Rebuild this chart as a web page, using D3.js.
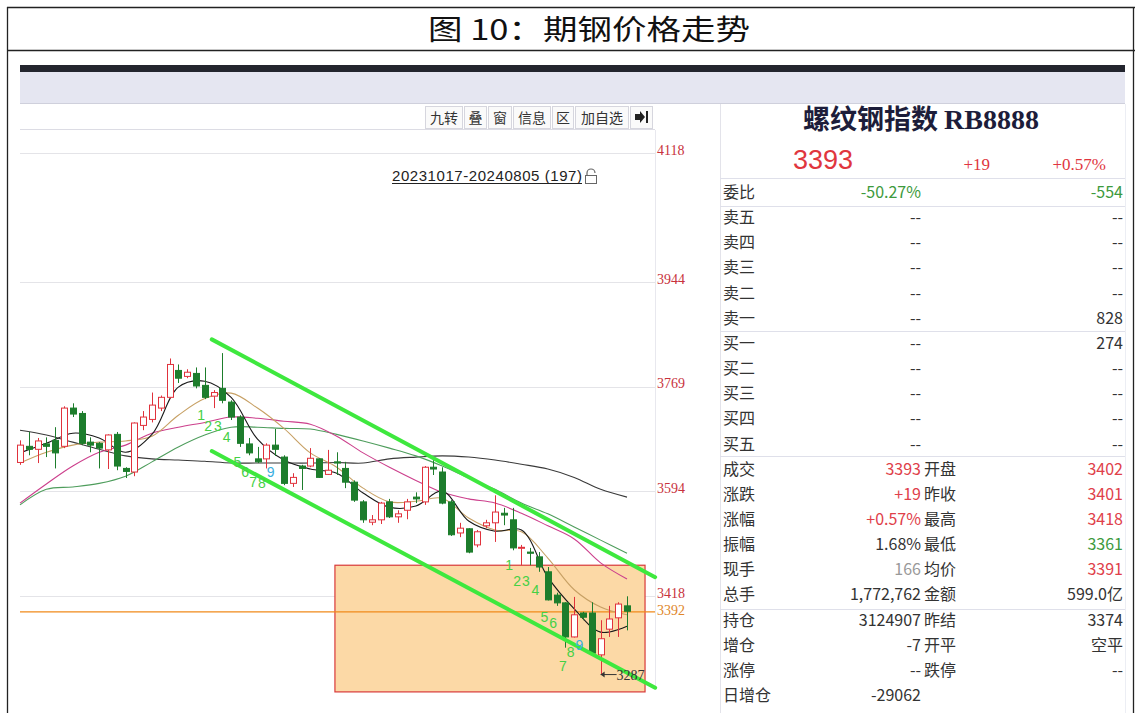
<!DOCTYPE html>
<html><head><meta charset="utf-8">
<script src="https://cdn.jsdelivr.net/npm/d3@7/dist/d3.min.js"></script>
<style>html,body{margin:0;padding:0;background:#fff}svg{display:block}</style>
</head><body><svg id="chart" width="1135" height="713"></svg>
<script>
// ---------------- data ----------------
const days = d3.range(1, 71);
const opens = [3642,3669,3664,3673,3679,3669,3733,3724,3676,3674, 3663,3689,3632,3626,3704,3714,3733,3751,3796,3786, 3791,3771,3753,3766,3743,3718,3673,3648,3648,3671, 3651,3607,3636,3636,3648,3622,3643,3632,3609,3576, 3542,3546,3576,3551,3562,3584,3576,3634,3626,3576, 3524,3531,3504,3536,3541,3557,3546,3499,3492,3484, 3459,3420,3407,3350,3390,3390,3320,3363,3382,3402];
const highs = [3679,3693,3683,3684,3701,3736,3741,3728,3684,3676, 3689,3693,3634,3709,3728,3759,3754,3816,3806,3798, 3801,3801,3763,3825,3746,3721,3683,3668,3674,3698, 3654,3624,3638,3666,3649,3663,3659,3643,3612,3579, 3554,3576,3581,3562,3581,3592,3636,3646,3634,3579, 3541,3532,3529,3546,3587,3566,3566,3504,3499,3492, 3467,3424,3408,3417,3392,3408,3378,3402,3408,3418];
const lows = [3638,3654,3641,3651,3632,3666,3718,3671,3659,3632, 3631,3629,3616,3619,3696,3709,3728,3749,3775,3783, 3766,3748,3733,3741,3713,3668,3654,3641,3632,3653, 3604,3601,3596,3634,3616,3621,3621,3599,3576,3541, 3537,3539,3549,3541,3547,3574,3571,3621,3572,3519, 3517,3490,3500,3532,3509,3537,3495,3470,3470,3459, 3411,3402,3332,3349,3378,3320,3287,3350,3350,3361];
const closes = [3671,3664,3678,3669,3658,3733,3723,3674,3671,3666, 3688,3636,3627,3708,3718,3738,3751,3806,3783,3793, 3770,3751,3759,3746,3718,3674,3658,3643,3671,3664, 3607,3617,3632,3649,3617,3629,3641,3609,3579,3546, 3546,3574,3551,3556,3576,3581,3634,3631,3574,3521, 3532,3492,3526,3541,3559,3554,3499,3500,3490,3467, 3412,3407,3350,3387,3383,3323,3347,3380,3405,3393];

const maDays = [1,4,7,10,13,16,19,22,25,28,31,34,37,40,43,46,49,52,55,58,61,64,67,70];
const ma5  = [3658,3674,3691,3683,3659,3689,3768,3778,3751,3681,3646,3631,3624,3591,3567,3569,3594,3544,3527,3529,3450,3397,3358,3368];
const ma10 = [3641,3659,3671,3676,3678,3686,3721,3749,3758,3733,3699,3658,3634,3599,3576,3577,3582,3549,3529,3526,3482,3429,3400,3387];
const ma20 = [3574,3606,3636,3659,3671,3691,3701,3709,3718,3716,3711,3706,3686,3658,3634,3612,3592,3581,3574,3557,3536,3514,3474,3447];
const ma40 = [3571,3597,3601,3607,3619,3643,3668,3688,3701,3701,3699,3698,3689,3678,3666,3653,3636,3616,3597,3574,3556,3534,3512,3490];
const ma60 = [3696,3688,3676,3664,3653,3648,3646,3644,3641,3641,3641,3641,3642,3641,3648,3651,3653,3651,3646,3639,3631,3617,3597,3584];

const priceTicks = [4118, 3944, 3769, 3594, 3418];
const lastPrice = 3392;
const lowMark = 3287, lowDay = 67;
const channelDays = [22.8, 73.2];
const channelUpper = [3848, 3450];
const channelLower = [3661, 3265];
const boxDays = [36.8, 72.05];
const boxPrices = [3470, 3258];

const tdText  = ['1','2','3','4','5','6','7','8','9','1','2','3','4','5','6','7','8','9'];
const tdDays  = [21.6,22.4,23.5,24.5,25.7,26.6,27.5,28.5,29.5, 56.6,57.5,58.5,59.6,60.6,61.6,62.7,63.6,64.6];
const tdPrices= [3713,3694,3694,3676,3634,3617,3601,3599,3617, 3462,3435,3435,3420,3375,3365,3293,3317,3328];

const rangeLabel = '20231017-20240805 (197)';
const toolButtons = ['九转','叠','窗','信息','区','加自选'];

const quoteName = '螺纹钢指数', quoteCode = 'RB8888';
const quotePrice = '3393', quoteChg = '+19', quotePct = '+0.57%';
const rowLabels = ['委比','卖五','卖四','卖三','卖二','卖一','买一','买二','买三','买四','买五','成交','涨跌','涨幅','振幅','现手','总手','持仓','增仓','涨停','日增仓'];
const midVals   = ['-50.27%','--','--','--','--','--','--','--','--','--','--','3393','+19','+0.57%','1.68%','166','1,772,762','3124907','-7','--','-29062'];
const midLabels = ['','','','','','','','','','','','开盘','昨收','最高','最低','均价','金额','昨结','开平','跌停',''];
const rightVals = ['-554','--','--','--','--','828','274','--','--','--','--','3402','3401','3418','3361','3391','599.0亿','3374','空平','--',''];
const midTone   = ['g','n','n','n','n','n','n','n','n','n','n','r','r','r','n','gray','n','n','n','n','n'];
const rightTone = ['g','n','n','n','n','n','n','n','n','n','n','r','r','r','g','r','n','n','n','n','n'];

// ---------------- drawing ----------------
const svg = d3.select('#chart');
const RED = '#e0323c', GREEN = '#1d7d2c';
const tone = {g:'#3d9a3d', r:'#e0404a', n:'#333', gray:'#999'};
const cjk = '"Noto Sans CJK SC","Noto Sans",sans-serif';

// report frame + title
svg.append('rect').attr('x',0).attr('y',0).attr('width',1135).attr('height',713).attr('fill','#fff');
svg.append('text').attr('x',428).attr('y',40)
  .attr('font-family',cjk).attr('font-size',28).attr('fill','#111')
  .attr('textLength',322).attr('lengthAdjust','spacingAndGlyphs').text('图 10：期钢价格走势');

// screenshot chrome
svg.append('rect').attr('x',20).attr('y',65).attr('width',1105).attr('height',7).attr('fill','#23252e');
svg.append('rect').attr('x',20).attr('y',72).attr('width',1105).attr('height',31).attr('fill','#e5e6f1');
svg.append('line').attr('x1',20).attr('x2',1125).attr('y1',103.5).attr('y2',103.5).attr('stroke','#cfd0dc');

// scales
const x = d3.scaleLinear().domain([1, 70]).range([20, 627]);
const y = d3.scaleLinear().domain([3418, 3944, 4118]).range([596.3, 282, 153]);

// toolbar
const tb = svg.append('g');
let bx = 425;
const bw = [37,22,23,37,21,53];
toolButtons.forEach((t,i)=>{
  tb.append('rect').attr('x',bx+0.5).attr('y',106.5).attr('width',bw[i]).attr('height',22)
    .attr('fill','#fafafa').attr('stroke','#d6d6de');
  tb.append('text').attr('x',bx+bw[i]/2+0.5).attr('y',123).attr('text-anchor','middle')
    .attr('font-family',cjk).attr('font-size',14).attr('fill','#333').text(t);
  bx += bw[i]+2;
});
tb.append('rect').attr('x',bx+0.5).attr('y',106.5).attr('width',22).attr('height',22).attr('fill','#fafafa').attr('stroke','#d6d6de');
tb.append('path').attr('d',`M${bx+5},114 h5 v-3 l5,6 l-5,6 v-3 h-5 z`).attr('fill','#222');
tb.append('rect').attr('x',bx+16).attr('y',111).attr('width',2).attr('height',12).attr('fill','#222');
svg.append('line').attr('x1',20).attr('x2',655).attr('y1',129.5).attr('y2',129.5).attr('stroke','#dcdce4');

// grid + right axis
const grid = svg.append('g');
priceTicks.forEach(v=>{
  grid.append('line').attr('x1',20).attr('x2',655).attr('y1',Math.round(y(v))+0.5).attr('y2',Math.round(y(v))+0.5).attr('stroke','#e4e4e8');
});
svg.append('line').attr('x1',655.5).attr('x2',655.5).attr('y1',130).attr('y2',690).attr('stroke','#e8e8ee');
const axisG = svg.append('g').attr('transform','translate(655,0)')
  .call(d3.axisRight(y).tickValues(priceTicks).tickSize(0).tickPadding(2).tickFormat(d3.format('d')));
axisG.select('.domain').remove();
axisG.selectAll('text').attr('font-family','"Liberation Serif",serif').attr('font-size',14).attr('fill','#c8323c').attr('dy','0.1em');

// range label
svg.append('text').attr('x',392).attr('y',181).attr('font-family','"Liberation Sans",Arial,sans-serif')
  .attr('font-size',15).attr('fill','#222').attr('textLength',190).text(rangeLabel);
svg.append('line').attr('x1',392).attr('x2',582).attr('y1',183.5).attr('y2',183.5).attr('stroke','#222');
svg.append('path').attr('d','M587,175 v-2 a4,4 0 0 1 8,0').attr('fill','none').attr('stroke','#666').attr('stroke-width',1.2);
svg.append('rect').attr('x',585.5).attr('y',175.5).attr('width',11).attr('height',8).attr('fill','#fff').attr('stroke','#666');

// box zone
svg.append('rect').attr('x',x(boxDays[0])).attr('y',y(boxPrices[0]))
  .attr('width',x(boxDays[1])-x(boxDays[0])).attr('height',y(boxPrices[1])-y(boxPrices[0]))
  .attr('fill','#fcd9a6').attr('stroke','#d83a3a').attr('stroke-width',1.2);

// last price line
svg.append('line').attr('x1',20).attr('x2',655).attr('y1',y(lastPrice)).attr('y2',y(lastPrice)).attr('stroke','#f08a1a').attr('stroke-width',1.2);
svg.append('text').attr('x',657).attr('y',y(lastPrice)+3).attr('font-family','"Liberation Serif",serif').attr('font-size',14).attr('fill','#e0862a').text('3392');

// moving averages
const mas = [[ma60,'#3a3a3a'],[ma40,'#4e9d5c'],[ma20,'#cc3f8c'],[ma10,'#c7a064'],[ma5,'#1a1a1a']];
const line = d3.line().x(d=>x(d[0])).y(d=>y(d[1])).curve(d3.curveCatmullRom.alpha(0.5));
mas.forEach(([arr,c])=>{
  svg.append('path').datum(maDays.map((d,i)=>[d,arr[i]])).attr('d',line).attr('fill','none').attr('stroke',c).attr('stroke-width',1.1);
});

// candles
const cw = 6;
const cg = svg.append('g');
days.forEach((d,i)=>{
  const up = closes[i] >= opens[i];
  const c = up ? RED : GREEN;
  const cx = Math.round(x(d));
  cg.append('line').attr('x1',cx+0.5).attr('x2',cx+0.5).attr('y1',y(highs[i])).attr('y2',y(lows[i])).attr('stroke',c).attr('stroke-width',1);
  const top = y(Math.max(opens[i],closes[i])), bot = y(Math.min(opens[i],closes[i]));
  cg.append('rect').attr('x',cx-cw/2+0.5).attr('y',top).attr('width',cw).attr('height',Math.max(1,bot-top))
    .attr('fill', up ? '#fff' : GREEN).attr('stroke',c).attr('stroke-width',1);
});

// channel lines
[channelUpper, channelLower].forEach(arr=>{
  svg.append('line').attr('x1',x(channelDays[0])).attr('y1',y(arr[0])).attr('x2',x(channelDays[1])).attr('y2',y(arr[1]))
    .attr('stroke','#3ee83e').attr('stroke-width',4).attr('stroke-linecap','round');
});

// TD sequence numbers
tdText.forEach((t,i)=>{
  svg.append('text').attr('x',x(tdDays[i])).attr('y',y(tdPrices[i])).attr('text-anchor','middle')
    .attr('font-family','"Liberation Sans",Arial,sans-serif').attr('font-size',14)
    .attr('fill', t==='9' ? '#3aaee0' : '#45d045').text(t);
});

// low marker
const lx = x(lowDay), ly = y(lowMark);
svg.append('line').attr('x1',lx).attr('x2',lx+16).attr('y1',ly).attr('y2',ly).attr('stroke','#333');
svg.append('path').attr('d',`M${lx},${ly} l4,-3 v6 z`).attr('fill','#333');
svg.append('text').attr('x',lx+16).attr('y',ly+5).attr('font-family','"Liberation Serif",serif').attr('font-size',14).attr('fill','#333').text(lowMark);

// ---------------- quote panel ----------------
const P = svg.append('g');
P.append('line').attr('x1',720.5).attr('x2',720.5).attr('y1',104).attr('y2',713).attr('stroke','#e3e3ea');
P.append('text').attr('x',921).attr('y',129).attr('text-anchor','middle').attr('fill','#1d1d3a')
  .call(t=>{
    t.append('tspan').attr('font-family',cjk).attr('font-weight',700).attr('font-size',27).text(quoteName+' ');
    t.append('tspan').attr('font-family','"Liberation Serif",serif').attr('font-weight',700).attr('font-size',28).text(quoteCode);
  });
P.append('text').attr('x',793).attr('y',169).attr('font-family','"Liberation Sans",Arial,sans-serif').attr('font-size',27).attr('fill','#e0363e').text(quotePrice);
P.append('text').attr('x',990).attr('y',170).attr('text-anchor','end').attr('font-family','"Liberation Serif",serif').attr('font-size',17).attr('fill','#e0363e').text(quoteChg);
P.append('text').attr('x',1106).attr('y',170).attr('text-anchor','end').attr('font-family','"Liberation Serif",serif').attr('font-size',17).attr('fill','#e0363e').text(quotePct);

[178, 206, 331, 456, 609].forEach(v=>{
  P.append('line').attr('x1',720).attr('x2',1125).attr('y1',v+0.5).attr('y2',v+0.5).attr('stroke','#dfe0ea');
});
P.append('line').attr('x1',1125.5).attr('x2',1125.5).attr('y1',104).attr('y2',713).attr('stroke','#eceef4');

const rowY = i => 192 + i*25.15;
rowLabels.forEach((lab,i)=>{
  const yy = rowY(i)+6;
  P.append('text').attr('x',723).attr('y',yy).attr('font-family',cjk).attr('font-size',16).attr('fill','#333').text(lab);
  P.append('text').attr('x',921).attr('y',yy).attr('text-anchor','end').attr('font-family',cjk).attr('font-size',16).attr('fill',tone[midTone[i]]).text(midVals[i]);
  if (midLabels[i]) P.append('text').attr('x',924).attr('y',yy).attr('font-family',cjk).attr('font-size',16).attr('fill','#333').text(midLabels[i]);
  if (rightVals[i]) P.append('text').attr('x',1123).attr('y',yy).attr('text-anchor','end').attr('font-family',cjk).attr('font-size',16).attr('fill',tone[rightTone[i]]).text(rightVals[i]);
});

// outer frame
svg.append('line').attr('x1',7.5).attr('x2',7.5).attr('y1',7).attr('y2',713).attr('stroke','#222').attr('stroke-width',1.3);
svg.append('line').attr('x1',7).attr('x2',1135).attr('y1',7.5).attr('y2',7.5).attr('stroke','#222').attr('stroke-width',1.3);
svg.append('line').attr('x1',7).attr('x2',1135).attr('y1',50.5).attr('y2',50.5).attr('stroke','#222').attr('stroke-width',1.3);
svg.append('line').attr('x1',1133.5).attr('x2',1133.5).attr('y1',7).attr('y2',713).attr('stroke','#222').attr('stroke-width',1.3);
</script></body></html>
